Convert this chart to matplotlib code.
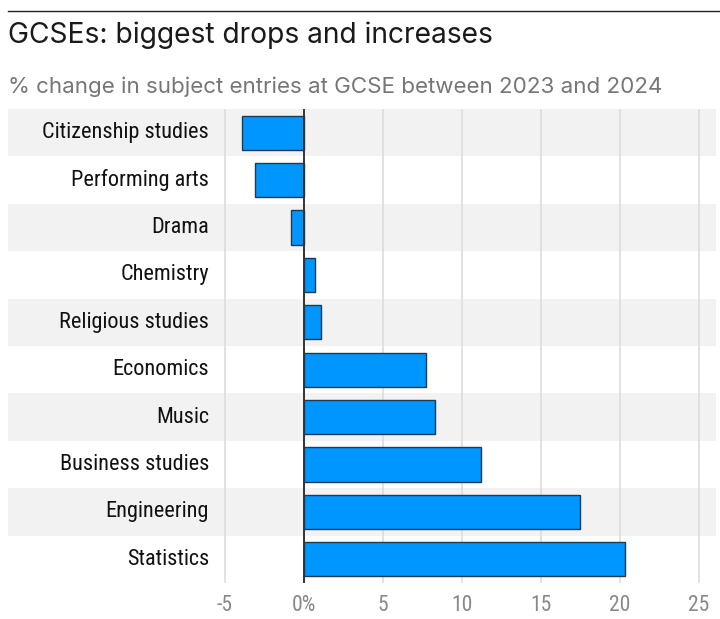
import numpy as np
import matplotlib.pyplot as plt

subjects = ['Citizenship studies', 'Performing arts', 'Drama', 'Chemistry',
            'Religious studies', 'Economics', 'Music', 'Business studies',
            'Engineering', 'Statistics']
change = [-3.9, -3.1, -0.8, 0.7, 1.1, 7.7, 8.3, 11.2, 17.5, 20.3]
xticks = [-5, 0, 5, 10, 15, 20, 25]
xticklabels = ['-5', '0%', '5', '10', '15', '20', '25']

cond = ['Roboto Condensed', 'Roboto', 'DejaVu Sans']
head = ['Inter', 'Open Sans', 'DejaVu Sans']

W, H = 720, 619
fig = plt.figure(figsize=(W / 100, H / 100), dpi=100)

# top rule and headings
fig.add_artist(plt.Line2D([8 / W, 1], [1 - 10.5 / H] * 2, color='#222222', lw=1))
fig.text(8 / W, 1 - 35 / H, 'GCSEs: biggest drops and increases', fontsize=20.3,
         family=head, weight='normal', color='#1a1a1a', va='center', ha='left')
fig.text(8 / W, 1 - 87 / H, '% change in subject entries at GCSE between 2023 and 2024',
         fontsize=16.1, family=head, weight='normal', color='#767676', va='center', ha='left')

left, right, top, bottom = 8, 716, 109, 583
ax = fig.add_axes([left / W, 1 - bottom / H, (right - left) / W, (bottom - top) / H])

px = 15.8  # pixels per percentage point
x0 = 304
ax.set_xlim((left - x0) / px, (right - x0) / px)
n = len(subjects)
ax.set_ylim(n - 0.5, -0.5)

for i in range(n):
    if i % 2 == 0:
        ax.axhspan(i - 0.5, i + 0.5, color='#f2f2f2', lw=0, zorder=0)

for t in xticks:
    if t != 0:
        ax.axvline(t, color='#dddddd', lw=1.2, zorder=1)

ax.barh(range(n), change, height=0.72, color='#0096ff', edgecolor='#1f3a52',
        lw=1, zorder=2)
ax.axvline(0, color='#333333', lw=1.4, zorder=3)

for i, s in enumerate(subjects):
    ax.text((209 - x0) / px, i, s, ha='right', va='center', fontsize=16,
            family=cond, color='#111111')

for t, lab in zip(xticks, xticklabels):
    ax.text(t, n - 0.5 + 0.47, lab, ha='center', va='center', fontsize=15.5,
            family=cond, color='#888888', clip_on=False)

ax.set_xticks([])
ax.set_yticks([])
for sp in ax.spines.values():
    sp.set_visible(False)

fig.savefig('out.png', dpi=100, facecolor='white')
